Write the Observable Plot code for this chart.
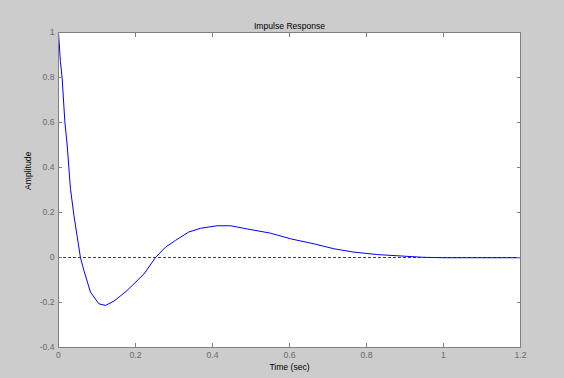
<!DOCTYPE html>
<html>
<head>
<meta charset="utf-8">
<script src="https://cdn.jsdelivr.net/npm/d3@7"></script>
<script src="https://cdn.jsdelivr.net/npm/@observablehq/plot@0.6"></script>
<style>
  html, body { margin: 0; padding: 0; background: #cccccc; }
  #chart svg { display: block; }
</style>
</head>
<body>
<div id="chart"></div>
<script>
// Impulse response samples
const timeSec = [0, 0.005, 0.0095, 0.0165, 0.0225, 0.031, 0.040, 0.048, 0.057, 0.066, 0.083, 0.105, 0.122, 0.144, 0.178, 0.222, 0.252, 0.278, 0.304, 0.338, 0.369, 0.412, 0.447, 0.490, 0.551, 0.603, 0.663, 0.715, 0.767, 0.828, 0.897, 0.945, 1.0, 1.2];
const amplitude = [1, 0.87, 0.796, 0.603, 0.5, 0.307, 0.188, 0.099, 0, -0.058, -0.154, -0.206, -0.213, -0.194, -0.147, -0.073, 0.0, 0.046, 0.076, 0.113, 0.13, 0.141, 0.141, 0.127, 0.108, 0.083, 0.061, 0.039, 0.024, 0.013, 0.006, 0.001, -0.001, -0.001];
const xTicks = [0, 0.2, 0.4, 0.6, 0.8, 1, 1.2];
const yTicks = [-0.4, -0.2, 0, 0.2, 0.4, 0.6, 0.8, 1];
const zeroLine = [0, 1.2];
const titleText = "Impulse Response";
const xLabel = "Time (sec)";
const yLabel = "Amplitude";

const data = timeSec.map((t, i) => ({t, a: amplitude[i]}));
const fmt = d => String(d);
const font = "Liberation Sans, Arial, Helvetica, sans-serif";
const tickColor = "#808080";
const labelColor = "#6a6a6a";

const chart = Plot.plot({
  width: 564,
  height: 378,
  marginLeft: 58,
  marginRight: 44,
  marginTop: 32,
  marginBottom: 31,
  style: {background: "#cccccc", fontFamily: font, fontSize: "8.6px", overflow: "visible"},
  x: {domain: [0, 1.2]},
  y: {domain: [-0.4, 1]},
  marks: [
    Plot.frame({fill: "white"}),
    // dotted zero line
    Plot.line(zeroLine, {x: d => d, y: () => 0, stroke: "#333333", strokeWidth: 1, strokeDasharray: "2,3"}),
    // response curve
    Plot.line(data, {x: "t", y: "a", stroke: "#0000ff", strokeWidth: 1}),
    // inward ticks on all four sides
    Plot.axisX({anchor: "bottom", ticks: xTicks, tickSize: 4, dy: -4, tickFormat: () => "", stroke: tickColor, label: null}),
    Plot.axisX({anchor: "top", ticks: xTicks, tickSize: 4, dy: 4, tickFormat: () => "", stroke: tickColor, label: null}),
    Plot.axisY({anchor: "left", ticks: yTicks, tickSize: 4, dx: 4, tickFormat: () => "", stroke: tickColor, label: null}),
    Plot.axisY({anchor: "right", ticks: yTicks, tickSize: 4, dx: -4, tickFormat: () => "", stroke: tickColor, label: null}),
    // tick labels
    Plot.axisX({anchor: "bottom", ticks: xTicks, tickSize: 0, tickPadding: 4, tickFormat: fmt, color: labelColor, label: null}),
    Plot.axisY({anchor: "left", ticks: yTicks, tickSize: 0, tickPadding: 4, tickFormat: fmt, color: labelColor, label: null}),
    Plot.frame({stroke: tickColor, strokeWidth: 1}),
    // titles
    Plot.text([titleText], {frameAnchor: "top", dy: -10, text: d => d, fill: "black", fontSize: 8.6}),
    Plot.text([xLabel], {frameAnchor: "bottom", dy: 22, text: d => d, fill: "black", fontSize: 8.6}),
    Plot.text([yLabel], {frameAnchor: "left", dx: -30, rotate: -90, text: d => d, fill: "black", fontSize: 8.6})
  ]
});
document.getElementById("chart").appendChild(chart);
</script>
</body>
</html>
